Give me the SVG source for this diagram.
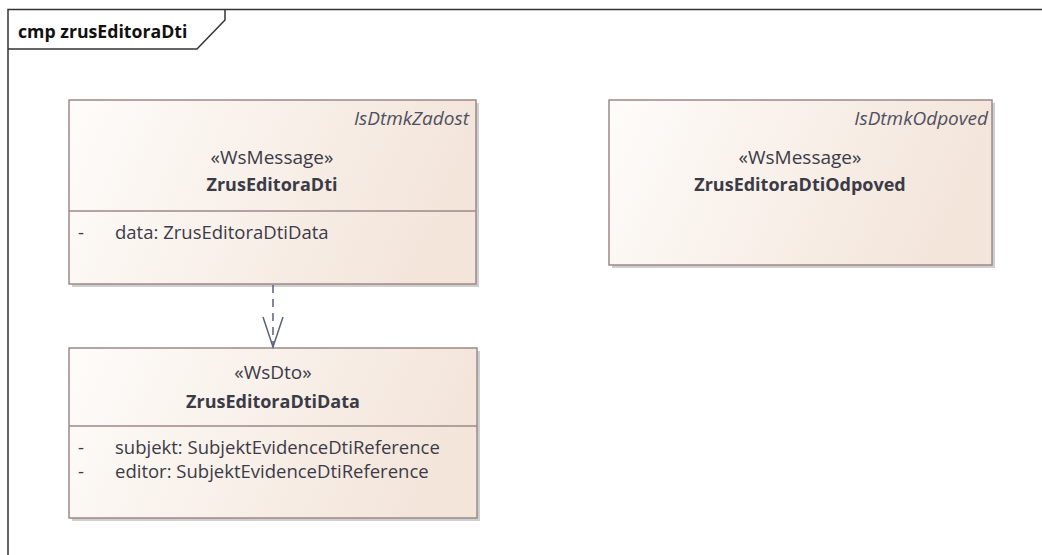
<svg xmlns="http://www.w3.org/2000/svg" width="1042" height="555" viewBox="0 0 1042 555">
<defs>
<linearGradient id="g" x1="0" y1="0" x2="1" y2="0.2">
<stop offset="0" stop-color="#fefcfa"/>
<stop offset="1" stop-color="#f3e5da"/>
</linearGradient>
<style>
.box{fill:url(#g);stroke:#9d8888;stroke-width:1.5}
.sh{fill:#cfcfcf}
.div{stroke:#9d8888;stroke-width:1.5}
text{font-family:"Open Sans","Liberation Sans",sans-serif;fill:#3b3b48}
.st{font-size:19px;text-anchor:middle}
.nm{font-size:18px;font-weight:bold;text-anchor:middle}
.tag{font-size:19px;font-style:italic;text-anchor:end;fill:#505060}
.at{font-size:18.5px}
.frame{fill:none;stroke:#333;stroke-width:1.5}
</style>
</defs>
<rect width="1042" height="555" fill="#fff"/>
<g id="frame">
<path class="frame" d="M8,555 V9.5 H1042"/>
<path class="frame" d="M8,49 H197 L225,20 V9.5"/>
<text x="18" y="38" style="font-size:17.7px;font-weight:bold;fill:#111">cmp zrusEditoraDti</text>
</g>
<g id="ZrusEditoraDti">
<rect class="sh" x="72" y="103" width="407" height="184"/>
<rect class="box" x="69" y="100" width="407" height="184"/>
<line class="div" x1="69" y1="211" x2="476" y2="211"/>
<text class="tag" x="469" y="125">IsDtmkZadost</text>
<text class="st" x="272" y="164">«WsMessage»</text>
<text class="nm" x="272" y="191">ZrusEditoraDti</text>
<text class="at" x="78" y="239">-</text>
<text class="at" x="115" y="239">data: ZrusEditoraDtiData</text>
</g>
<g id="ZrusEditoraDtiOdpoved">
<rect class="sh" x="612" y="103" width="383" height="165"/>
<rect class="box" x="609" y="100" width="383" height="165"/>
<text class="tag" x="988" y="125">IsDtmkOdpoved</text>
<text class="st" x="800" y="164">«WsMessage»</text>
<text class="nm" x="800" y="191">ZrusEditoraDtiOdpoved</text>
</g>
<g id="ZrusEditoraDtiData">
<rect class="sh" x="72" y="351" width="408" height="170"/>
<rect class="box" x="69" y="348" width="408" height="170"/>
<line class="div" x1="69" y1="426" x2="477" y2="426"/>
<text class="st" x="273" y="379">«WsDto»</text>
<text class="nm" x="273" y="408">ZrusEditoraDtiData</text>
<text class="at" x="78" y="454">-</text>
<text class="at" x="115" y="454">subjekt: SubjektEvidenceDtiReference</text>
<text class="at" x="78" y="478">-</text>
<text class="at" x="115" y="478">editor: SubjektEvidenceDtiReference</text>
</g>
<g id="connectors">
<line x1="273" y1="285" x2="273" y2="347" stroke="#5a6078" stroke-width="1.5" stroke-dasharray="8,6"/>
<polyline points="263,317 273,347 283,317" fill="none" stroke="#5a6078" stroke-width="1.5"/>
</g>
</svg>
